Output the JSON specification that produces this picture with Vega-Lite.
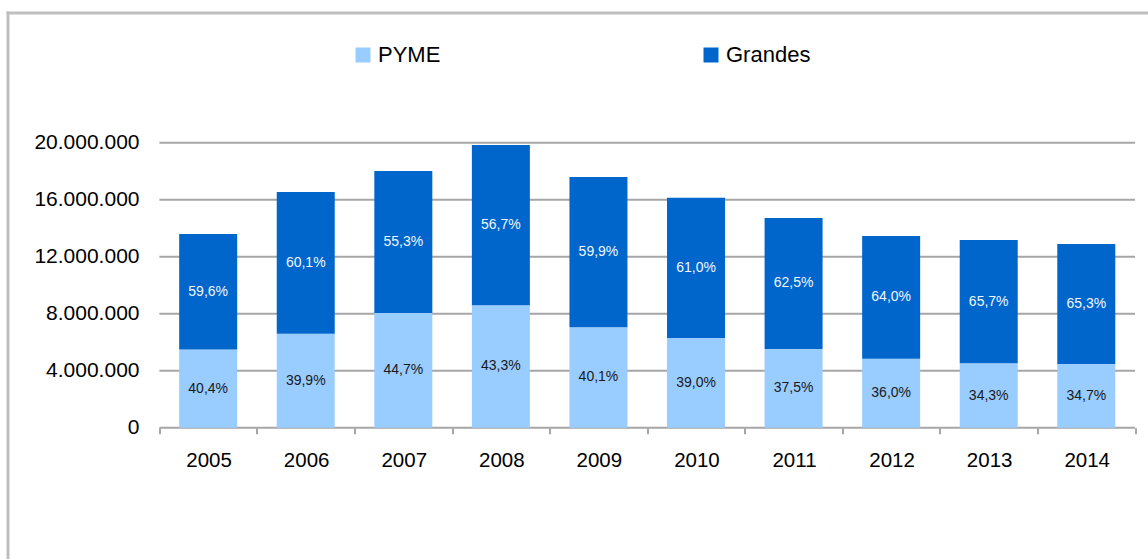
{
  "$schema": "https://vega.github.io/schema/vega-lite/v6.json",
  "width": 1140.5,
  "height": 546.5,
  "autosize": {"type": "none"},
  "padding": {"left": 7.5, "top": 12.5, "right": 0, "bottom": 0},
  "background": "#FFFFFF",
  "config": {
    "view": {"stroke": null},
    "font": "Liberation Sans",
    "locale": {"number": {"decimal": ",", "thousands": ".", "grouping": [3], "currency": ["", " €"]}}
  },
  "datasets": {
    "ventas": [
      {"anio": 2005, "tipo": "PYME", "valor": 5490000, "pct": "40,4%"},
      {"anio": 2005, "tipo": "Grandes", "valor": 8100000, "pct": "59,6%"},
      {"anio": 2006, "tipo": "PYME", "valor": 6599000, "pct": "39,9%"},
      {"anio": 2006, "tipo": "Grandes", "valor": 9941000, "pct": "60,1%"},
      {"anio": 2007, "tipo": "PYME", "valor": 8050000, "pct": "44,7%"},
      {"anio": 2007, "tipo": "Grandes", "valor": 9960000, "pct": "55,3%"},
      {"anio": 2008, "tipo": "PYME", "valor": 8591000, "pct": "43,3%"},
      {"anio": 2008, "tipo": "Grandes", "valor": 11249000, "pct": "56,7%"},
      {"anio": 2009, "tipo": "PYME", "valor": 7054000, "pct": "40,1%"},
      {"anio": 2009, "tipo": "Grandes", "valor": 10536000, "pct": "59,9%"},
      {"anio": 2010, "tipo": "PYME", "valor": 6291000, "pct": "39,0%"},
      {"anio": 2010, "tipo": "Grandes", "valor": 9839000, "pct": "61,0%"},
      {"anio": 2011, "tipo": "PYME", "valor": 5520000, "pct": "37,5%"},
      {"anio": 2011, "tipo": "Grandes", "valor": 9200000, "pct": "62,5%"},
      {"anio": 2012, "tipo": "PYME", "valor": 4842000, "pct": "36,0%"},
      {"anio": 2012, "tipo": "Grandes", "valor": 8608000, "pct": "64,0%"},
      {"anio": 2013, "tipo": "PYME", "valor": 4517000, "pct": "34,3%"},
      {"anio": 2013, "tipo": "Grandes", "valor": 8653000, "pct": "65,7%"},
      {"anio": 2014, "tipo": "PYME", "valor": 4473000, "pct": "34,7%"},
      {"anio": 2014, "tipo": "Grandes", "valor": 8417000, "pct": "65,3%"}
    ],
    "rejilla": [
      {"v": 0}, {"v": 4000000}, {"v": 8000000}, {"v": 12000000}, {"v": 16000000}, {"v": 20000000}
    ]
  },
  "resolve": {"axis": {"x": "independent", "y": "independent"}},
  "layer": [
    {
      "data": {"name": "rejilla"},
      "mark": {"type": "rule", "color": "#A6A6A6", "strokeWidth": 2},
      "encoding": {
        "y": {
          "field": "v", "type": "quantitative",
          "scale": {"domain": [-9214000, 29137000], "zero": false, "nice": false},
          "axis": {"orient": "left", "offset": 0, "domain": true, "domainColor": "#BFBFBF", "domainWidth": 3, "domainCap": "square", "ticks": false, "labels": false, "grid": false, "title": null}
        },
        "x": {
          "datum": 2004.5, "type": "quantitative",
          "scale": {"domain": [2002.9944, 2014.5813], "zero": false, "nice": false},
          "axis": {"orient": "top", "offset": 0, "domain": true, "domainColor": "#BFBFBF", "domainWidth": 3, "domainCap": "square", "ticks": false, "labels": false, "grid": false, "title": null}
        },
        "x2": {"datum": 2014.5}
      }
    },
    {
      "data": {"name": "ventas"},
      "mark": {"type": "bar", "orient": "vertical", "width": 58},
      "encoding": {
        "x": {
          "field": "anio", "type": "quantitative",
          "scale": {"domain": [2002.9944, 2014.5813], "zero": false, "nice": false},
          "axis": {
            "orient": "bottom", "offset": -131.3, "title": null, "grid": false, "domain": false,
            "values": [2004.5, 2005.5, 2006.5, 2007.5, 2008.5, 2009.5, 2010.5, 2011.5, 2012.5, 2013.5, 2014.5],
            "labelExpr": "datum.value < 2014 ? format(datum.value + 0.5, 'd') : ''",
            "labelOffset": 49.2, "labelFlush": false, "labelOverlap": false, "labelBound": false,
            "ticks": true, "tickSize": 6, "tickWidth": 2, "tickColor": "#A6A6A6",
            "labelFontSize": 20.5, "labelColor": "#000000", "labelPadding": 17, "labelFont": "Liberation Sans"
          }
        },
        "y": {
          "field": "valor", "type": "quantitative", "stack": "zero",
          "scale": {"domain": [-9214000, 29137000], "zero": false, "nice": false},
          "axis": {
            "orient": "left", "offset": -148.2, "title": null, "grid": false, "domain": false, "ticks": false,
            "values": [0, 4000000, 8000000, 12000000, 16000000, 20000000],
            "format": ",d", "labelFontSize": 21, "labelColor": "#000000", "labelPadding": 16.7, "labelFont": "Liberation Sans"
          }
        },
        "order": {"field": "tipo", "sort": "descending"},
        "color": {
          "field": "tipo", "type": "nominal",
          "scale": {"domain": ["PYME", "Grandes"], "range": ["#99CCFF", "#0066CC"]},
          "legend": {
            "title": null, "orient": "none", "legendX": 344.5, "legendY": 31.5,
            "direction": "horizontal", "symbolType": "square", "symbolSize": 225, "symbolStrokeWidth": 0,
            "labelFontSize": 22, "labelColor": "#000000", "labelFont": "Liberation Sans", "labelOffset": 4,
            "columnPadding": 259, "gridAlign": "each", "padding": 0
          }
        }
      }
    },
    {
      "data": {"name": "ventas"},
      "mark": {"type": "text", "fontSize": 14, "font": "Liberation Sans", "baseline": "middle", "align": "center"},
      "encoding": {
        "x": {"field": "anio", "type": "quantitative", "axis": null},
        "y": {"field": "valor", "type": "quantitative", "stack": "zero", "bandPosition": 0.5, "axis": null},
        "order": {"field": "tipo", "sort": "descending"},
        "text": {"field": "pct"},
        "color": {"condition": {"test": "datum.tipo === 'PYME'", "value": "#1A1A1A"}, "value": "#F2F6FF"}
      }
    }
  ]
}
